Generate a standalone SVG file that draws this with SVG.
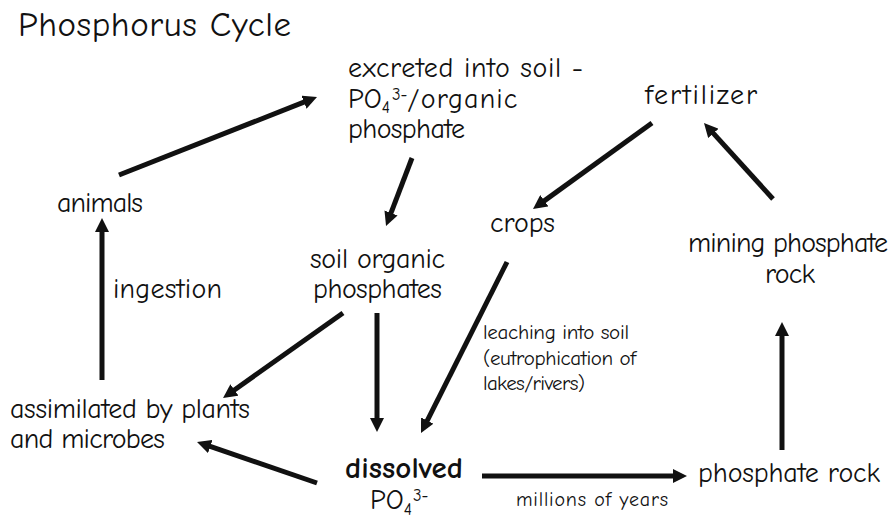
<svg xmlns="http://www.w3.org/2000/svg" width="895" height="519" viewBox="0 0 895 519">
<defs>
<marker id="ah" markerUnits="userSpaceOnUse" markerWidth="14" markerHeight="14" refX="4" refY="7" orient="auto" viewBox="0 0 14 14">
<path d="M0,0 L14,7 L0,14 z" fill="#111"/>
</marker>
<style>
text{font-family:"Comic Sans MS","Comic Neue","Open Sans","DejaVu Sans",sans-serif;fill:#111;}
.t{font-size:35px;}
.n{font-size:28px;}
.s{font-size:21px;}
.xs{font-size:20px;}
.b{font-weight:bold;font-size:31px;}
.sub{font-size:17px;}
.c line{stroke:#111;stroke-width:5;marker-end:url(#ah);}
</style>
</defs>
<rect width="895" height="519" fill="#fff"/>
<text class="t" x="18" y="36" textLength="273">Phosphorus Cycle</text>
<g id="excreted"><text class="n" x="348" y="77" textLength="235">excreted into soil -</text><text class="n" x="348" y="108">PO<tspan class="sub" dy="5">4</tspan><tspan class="sub" dy="-13" dx="2">3-</tspan><tspan dy="8" textLength="110">/organic</tspan></text><text class="n" x="348" y="138" textLength="117">phosphate</text></g>
<g id="fertilizer"><text class="n" x="645" y="104" textLength="112">fertilizer</text></g>
<g id="animals"><text class="n" x="57" y="212" textLength="86">animals</text></g>
<g id="crops"><text class="n" x="490" y="232" textLength="65">crops</text></g>
<g id="mining"><text class="n" x="688" y="252" textLength="200">mining phosphate</text><text class="n" x="765" y="283" textLength="50">rock</text></g>
<g id="soilorganic"><text class="n" x="310" y="268" textLength="135">soil organic</text><text class="n" x="313" y="298" textLength="129">phosphates</text></g>
<g id="assimilated"><text class="n" x="10" y="418" textLength="240">assimilated by plants</text><text class="n" x="10" y="448" textLength="155">and microbes</text></g>
<g id="dissolved"><text class="b" x="345" y="478" textLength="118">dissolved</text><text class="n" x="370" y="509">PO<tspan class="sub" dy="6">4</tspan><tspan class="sub" dy="-14" dx="1">3-</tspan></text></g>
<g id="phosphaterock"><text class="n" x="698" y="482" textLength="182">phosphate rock</text></g>
<g class="c" id="connectors">
<line x1="119" y1="175" x2="307.7" y2="100.7"/>
<line x1="412" y1="158" x2="389.6" y2="216.7"/>
<line x1="652" y1="123" x2="541.1" y2="203.1"/>
<line x1="773" y1="199" x2="710.7" y2="130.4"/>
<line x1="507" y1="262" x2="425.5" y2="424.1"/>
<line x1="343" y1="313" x2="231.2" y2="392.2"/>
<line x1="377" y1="313" x2="377" y2="422"/>
<line x1="102" y1="380" x2="102" y2="228"/>
<line x1="317" y1="483" x2="206.5" y2="445.2"/>
<line x1="482" y1="476" x2="677" y2="476"/>
<line x1="782" y1="450" x2="782" y2="332"/>
</g>
<g id="labels">
<text class="n" x="113" y="298" textLength="109">ingestion</text>
<text class="s" x="483" y="339" textLength="146">leaching into soil</text>
<text class="s" x="483" y="365" textLength="153">(eutrophication of</text>
<text class="s" x="483" y="390" textLength="102">lakes/rivers)</text>
<text class="xs" x="516" y="506" textLength="152">millions of years</text>
</g>
</svg>
